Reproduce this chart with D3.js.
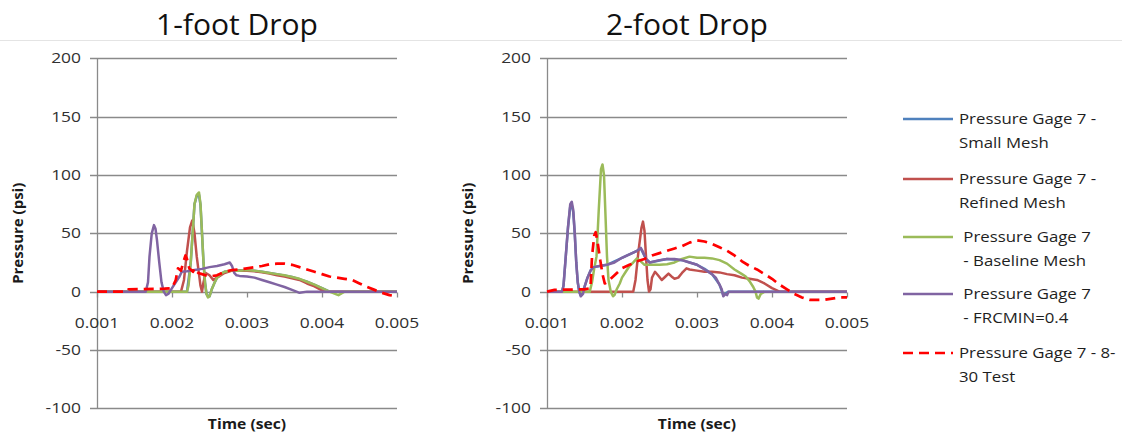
<!DOCTYPE html>
<html>
<head>
<meta charset="utf-8">
<script src="https://cdn.jsdelivr.net/npm/d3@7"></script>
<style>
  html, body { margin: 0; padding: 0; background: #fff; }
  svg { display: block; }
  text { font-family: "Open Sans", "DejaVu Sans", sans-serif; white-space: pre; }
</style>
</head>
<body>
<svg id="chart" width="1122" height="436"></svg>
<script>
// ---------------- DATA ----------------
const panelTitles = ["1-foot Drop", "2-foot Drop"];
const xTickValues = [0.001, 0.002, 0.003, 0.004, 0.005];
const yTickValues = [-100, -50, 0, 50, 100, 150, 200];
const xAxisTitle = "Time (sec)";
const yAxisTitle = "Pressure (psi)";

const seriesNames = [
  ["Pressure Gage 7 -", "Small Mesh"],
  ["Pressure Gage 7 -", "Refined Mesh"],
  [" Pressure Gage 7", " - Baseline Mesh"],
  [" Pressure Gage 7", " - FRCMIN=0.4"],
  ["Pressure Gage 7 - 8-", "30 Test"]
];

// 1-foot drop: [time (sec), pressure (psi)]
const oneFootSmall = [[0.001,0],[0.0022,0],[0.00225,25],[0.00228,55],[0.0023,75],[0.00233,82],[0.00236,83],[0.00238,74],[0.0024,50],[0.00242,25],[0.00244,8],[0.00246,-2],[0.00248,-4],[0.0025,-4],[0.00253,2],[0.00257,8],[0.0026,12],[0.00265,15],[0.0027,17],[0.0028,18],[0.003,18.5],[0.0032,17],[0.0034,15],[0.0036,12.5],[0.0038,8.5],[0.004,3],[0.0041,0],[0.005,0]];
const oneFootRefined = [[0.001,0],[0.00212,0],[0.00216,10],[0.0022,35],[0.00224,55],[0.00227,61],[0.0023,50],[0.00233,30],[0.00236,15],[0.00238,5],[0.0024,0],[0.00242,8],[0.00245,16],[0.0025,14],[0.00255,10],[0.0026,12],[0.0027,16],[0.0028,18],[0.0029,18],[0.003,18],[0.0031,17.5],[0.0032,16.5],[0.0033,15.5],[0.0034,14],[0.0035,13],[0.0036,11.5],[0.0037,10],[0.0038,7],[0.0039,4.5],[0.004,1],[0.00405,0],[0.005,0]];
const oneFootBaseline = [[0.001,0],[0.0022,0],[0.00222,5],[0.00225,25],[0.00228,55],[0.0023,75],[0.00233,83],[0.00236,85],[0.00238,75],[0.0024,50],[0.00242,25],[0.00244,8],[0.00246,-2],[0.00248,-5],[0.0025,-4],[0.00253,2],[0.00257,8],[0.0026,12],[0.00265,15],[0.0027,17],[0.0028,18],[0.0029,18],[0.003,18.5],[0.0031,18],[0.0032,17],[0.0033,16],[0.0034,15],[0.0035,14],[0.0036,12.5],[0.0037,11],[0.0038,8.5],[0.0039,6],[0.004,3],[0.0041,0],[0.0042,-2.5],[0.00422,-3],[0.0043,0],[0.005,0]];
const oneFootFrcmin = [[0.001,0],[0.00165,0],[0.00168,8],[0.0017,30],[0.00173,50],[0.00176,57],[0.00178,54],[0.0018,44],[0.00183,25],[0.00186,8],[0.00189,0],[0.00192,-3],[0.00195,-2],[0.002,3],[0.00205,8],[0.0021,13],[0.00213,17],[0.0022,17.5],[0.0023,18.5],[0.0024,19.5],[0.0025,21],[0.0026,22],[0.0027,23.5],[0.00277,25],[0.0028,22],[0.00283,16],[0.00286,14],[0.0029,13.5],[0.003,13],[0.0031,12],[0.0032,10],[0.0033,8],[0.0034,6],[0.0035,4],[0.0036,1.5],[0.00366,0],[0.0037,-1],[0.0038,0],[0.005,0]];
const oneFootTest = [[0.001,0],[0.0014,0],[0.00142,2],[0.0019,2.5],[0.002,3],[0.00205,10],[0.00208,20],[0.00212,18],[0.00215,25],[0.00218,31],[0.0022,28],[0.00223,20],[0.00228,17],[0.0023,20],[0.00235,16],[0.0024,15],[0.0025,13],[0.0026,14],[0.0027,17],[0.0028,18.5],[0.0029,19],[0.003,20],[0.0031,21],[0.0032,22],[0.0033,23.5],[0.0034,24],[0.0035,24],[0.0036,23],[0.0037,21],[0.0038,19],[0.0039,17],[0.004,15],[0.0041,13],[0.0042,12],[0.0043,11],[0.0044,10],[0.0045,7],[0.0046,4],[0.0047,1.5],[0.0048,-1],[0.0049,-3],[0.005,-4]];

// 2-foot drop
const twoFootSmall = [[0.001,0],[0.0012,0],[0.00122,5],[0.00125,30],[0.00128,55],[0.00131,73],[0.00133,74],[0.00135,68],[0.00137,50],[0.00139,25],[0.00141,8],[0.00143,0],[0.00145,-3],[0.0015,4],[0.00154,12],[0.00158,18],[0.00162,21],[0.0018,23],[0.002,29],[0.0022,35],[0.00225,37],[0.00232,28],[0.00237,25],[0.0026,28],[0.0028,27],[0.003,23],[0.0031,19.5],[0.0032,15],[0.0033,6],[0.00335,-3],[0.00342,0],[0.005,0]];
const twoFootRefined = [[0.001,0],[0.00215,0],[0.00218,10],[0.00222,35],[0.00226,55],[0.00228,60],[0.0023,52],[0.00232,30],[0.00234,10],[0.00236,0],[0.00238,2],[0.0024,12],[0.00244,17],[0.00248,14],[0.00253,10],[0.00258,13],[0.00262,15.5],[0.00266,13],[0.0027,11],[0.00275,12],[0.0028,16],[0.00286,20],[0.0029,19],[0.003,18],[0.0031,17],[0.0032,17],[0.0033,16.5],[0.0034,15],[0.0035,14],[0.0036,12],[0.0037,11],[0.0038,10],[0.0039,7],[0.004,3],[0.0041,0],[0.005,0]];
const twoFootBaseline = [[0.001,0],[0.00157,0],[0.0016,8],[0.00163,20],[0.00166,30],[0.00169,70],[0.00172,105],[0.00174,109],[0.00176,100],[0.00178,65],[0.0018,30],[0.00182,10],[0.00185,0],[0.00188,-4],[0.0019,-3],[0.00193,2],[0.00197,7],[0.002,12],[0.00205,17],[0.0021,22],[0.00215,25],[0.0022,28.5],[0.00225,26],[0.0023,23],[0.0024,23],[0.0025,23],[0.0026,23.5],[0.0027,25],[0.0028,28],[0.0029,30],[0.003,29],[0.0031,29],[0.0032,28.5],[0.0033,27],[0.0034,24],[0.0035,19],[0.0036,15],[0.00365,13],[0.0037,9],[0.00375,4],[0.00378,0],[0.0038,-5],[0.00382,-6],[0.00385,-2],[0.0039,0]];
const twoFootFrcmin = [[0.001,0],[0.0012,0],[0.00122,5],[0.00125,30],[0.00128,55],[0.00131,75],[0.00133,77],[0.00135,70],[0.00137,50],[0.00139,25],[0.00141,8],[0.00143,0],[0.00145,-4],[0.00148,-2],[0.0015,4],[0.00154,12],[0.00158,18],[0.00162,21],[0.0017,22],[0.0018,23],[0.0019,25],[0.002,29],[0.0021,32],[0.0022,35],[0.00225,37.5],[0.00228,34],[0.00232,28],[0.00237,25],[0.0025,27],[0.0026,28],[0.0027,28],[0.0028,27],[0.0029,25],[0.003,23],[0.0031,19],[0.0032,15],[0.00325,12],[0.0033,6],[0.00333,2],[0.00335,-4],[0.00338,-2],[0.0034,-3],[0.00342,0],[0.005,0]];
const twoFootTest = [[0.001,0],[0.0011,1.5],[0.0015,2],[0.00158,3],[0.0016,30],[0.00163,48],[0.00165,51],[0.00168,40],[0.00171,27],[0.00174,15],[0.00177,7],[0.0018,8],[0.0019,14],[0.002,20],[0.0021,23],[0.0022,26],[0.0023,28],[0.0024,31],[0.0025,33],[0.0026,35],[0.0027,37],[0.0028,39],[0.0029,42],[0.003,44],[0.0031,43],[0.0032,41],[0.0033,38],[0.0034,35],[0.0035,31],[0.0036,26],[0.0037,22],[0.0038,19],[0.0039,15],[0.004,11],[0.0041,6],[0.0042,2],[0.0043,-2],[0.0044,-5],[0.0045,-7],[0.0046,-7],[0.0047,-7],[0.0048,-6],[0.0049,-5],[0.005,-5]];

const panelSeries = [
  [oneFootSmall, oneFootRefined, oneFootBaseline, oneFootFrcmin, oneFootTest],
  [twoFootSmall, twoFootRefined, twoFootBaseline, twoFootFrcmin, twoFootTest]
];

// ---------------- STYLE ----------------
const seriesColors = ["#4F81BD", "#C0504D", "#9BBB59", "#8064A2", "#FF0000"];
const seriesDash = [null, null, null, null, "10,6"];
const gridColor = "#8a8a8a";
const SX = 1.2; // horizontal stretch of text in the reference

const svg = d3.select("#chart");
svg.append("rect").attr("width", 1122).attr("height", 436).attr("fill", "#fff");
svg.append("line").attr("x1", 0).attr("x2", 1122).attr("y1", 40.5).attr("y2", 40.5)
   .attr("stroke", "#e4e4e4").attr("stroke-width", 1);

function addText(parent, x, y, str, o) {
  return parent.append("text")
    .attr("transform", `translate(${x},${y}) scale(${o.sx || 1},1)`)
    .attr("text-anchor", o.anchor || "start")
    .attr("font-size", o.size)
    .attr("font-weight", o.weight || "normal")
    .attr("fill", o.fill || "#333")
    .text(str);
}

const panelX0 = [97, 547];
const plotW = 300;
const yTop = 58.3, yBottom = 408.3;
const fmtX = d3.format(".3f");

panelX0.forEach((x0, pi) => {
  const g = svg.append("g");
  const x = d3.scaleLinear().domain([0.001, 0.005]).range([x0, x0 + plotW]);
  const y = d3.scaleLinear().domain([-100, 200]).range([yBottom, yTop]);

  // title
  addText(g, x0 + 140, 35, panelTitles[pi], {size: 30, anchor: "middle", fill: "#111", sx: 1.0});

  // horizontal gridlines + y ticks
  g.selectAll(".grid").data(yTickValues).enter().append("line")
    .attr("x1", x0 - 7).attr("x2", x0 + plotW)
    .attr("y1", d => Math.round(y(d)) + 0.5).attr("y2", d => Math.round(y(d)) + 0.5)
    .attr("stroke", gridColor).attr("stroke-width", 1.3);
  // y axis line
  g.append("line").attr("x1", x0 + 0.5).attr("x2", x0 + 0.5)
    .attr("y1", Math.round(y(200)) + 0.5).attr("y2", Math.round(y(-100)) + 0.5)
    .attr("stroke", gridColor).attr("stroke-width", 1.3);
  yTickValues.forEach(v => {
    addText(g, x0 - 16, y(v) + 5, String(v), {size: 14.5, anchor: "end", sx: SX, fill: "#303030"});
  });

  // x ticks on zero line
  const y0 = Math.round(y(0)) + 0.5;
  xTickValues.forEach(v => {
    g.append("line").attr("x1", Math.round(x(v)) + 0.5).attr("x2", Math.round(x(v)) + 0.5)
      .attr("y1", y0).attr("y2", y0 + 5).attr("stroke", gridColor).attr("stroke-width", 1.3);
    addText(g, x(v), 328, fmtX(v), {size: 14.5, anchor: "middle", sx: SX, fill: "#303030"});
  });

  // axis titles
  addText(g, x0 + plotW / 2, 429, xAxisTitle, {size: 14, weight: "bold", anchor: "middle", sx: 1.12, fill: "#1a1a1a"});
  g.append("text")
    .attr("transform", `translate(${x0 - 74},${(yTop + yBottom) / 2}) rotate(-90)`)
    .attr("text-anchor", "middle").attr("font-size", 15).attr("font-weight", "bold")
    .attr("fill", "#1a1a1a").text(yAxisTitle);

  // series
  const line = d3.line().x(d => x(d[0])).y(d => y(d[1]));
  panelSeries[pi].forEach((data, si) => {
    const p = g.append("path").datum(data).attr("d", line)
      .attr("fill", "none").attr("stroke", seriesColors[si])
      .attr("stroke-width", si === 4 ? 2.7 : 2.5)
      .attr("stroke-linejoin", "round");
    if (seriesDash[si]) p.attr("stroke-dasharray", seriesDash[si]);
  });
});

// ---------------- LEGEND ----------------
const legendY = [119, 179, 237, 294, 353];
const leg = svg.append("g");
seriesNames.forEach((lines, i) => {
  const ly = legendY[i];
  const l = leg.append("line").attr("x1", 903).attr("x2", 953).attr("y1", ly).attr("y2", ly)
    .attr("stroke", seriesColors[i]).attr("stroke-width", i === 4 ? 2.7 : 2.5);
  if (seriesDash[i]) l.attr("stroke-dasharray", seriesDash[i]);
  lines.forEach((t, k) => {
    addText(leg, 959, ly + 5 + k * 24, t, {size: 14, sx: 1.2, fill: "#1e1e1e"});
  });
});
</script>
</body>
</html>
